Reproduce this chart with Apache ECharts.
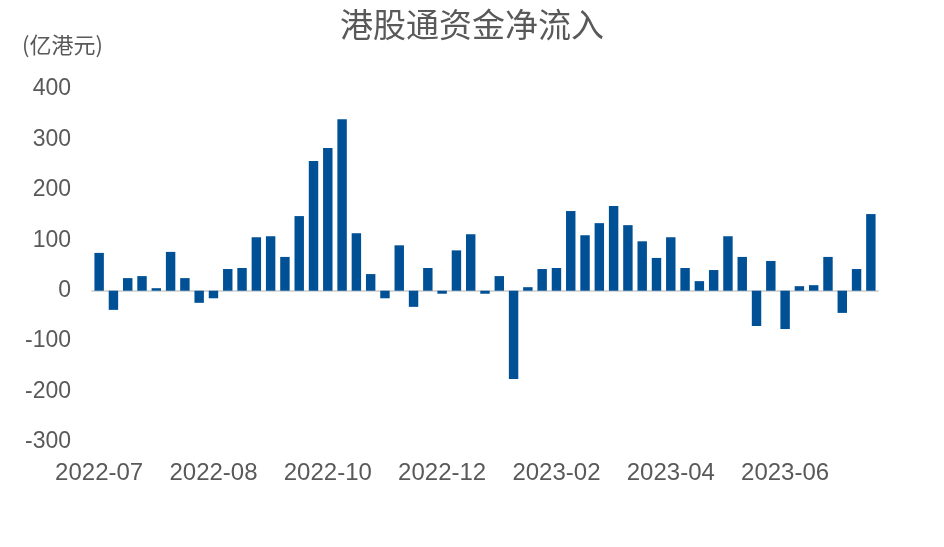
<!DOCTYPE html>
<html>
<head>
<meta charset="utf-8">
<script src="https://cdn.jsdelivr.net/npm/echarts@6/dist/echarts.min.js"></script>
<style>html,body{margin:0;padding:0;background:#fff;}#chart{width:944px;height:547px;}</style>
</head>
<body>
<div id="chart"></div>
<script>
var title = '港股通资金净流入';
var unitLabel = '(亿港元)';
var tickLabels = ['2022-07', '2022-08', '2022-10', '2022-12', '2023-02', '2023-04', '2023-06'];
var categories = [];
for (var i = 1; i <= 55; i++) categories.push('W' + i);
var values = [
  75, -38, 25, 29, 5, 77, 25, -24, -15, 43,
  45, 106, 108, 67, 148, 257, 283, 340, 114, 33,
  -15, 90, -32, 45, -6, 80, 112, -6, 29, -175,
  7, 43, 45, 158, 110, 134, 168, 130, 98, 65,
  106, 45, 19, 41, 108, 67, -70, 59, -76, 9,
  11, 67, -44, 43, 152
];

var chart = echarts.init(document.getElementById('chart'));
var fontLatin = '"Liberation Sans", Arial, "Noto Sans CJK SC", sans-serif';
var fontCJK = '"Noto Sans CJK SC", "Liberation Sans", sans-serif';
chart.setOption({
  animation: false,
  backgroundColor: '#ffffff',
  title: {
    text: title,
    left: 'center',
    top: 3,
    textStyle: { fontFamily: fontCJK, fontSize: 33, fontWeight: 'normal', color: '#595959' }
  },
  graphic: [{
    type: 'text',
    left: 22,
    top: 34,
    style: { text: unitLabel, font: '22px ' + fontCJK, fill: '#595959' }
  }],
  grid: { left: 92, right: 66, top: 89, bottom: 105 },
  xAxis: [{
    type: 'category',
    data: categories,
    position: 'bottom',
    axisLine: { show: true, onZero: true, lineStyle: { color: '#d9d9d9', width: 2 } },
    axisTick: { show: false },
    axisLabel: { show: false }
  }, {
    type: 'category',
    data: categories,
    position: 'bottom',
    axisLine: { show: false, onZero: false },
    axisTick: { show: false },
    axisLabel: {
      interval: 0,
      margin: 19,
      color: '#595959',
      fontSize: 24,
      fontFamily: fontLatin,
      formatter: function (v, idx) { return idx % 8 === 0 ? (tickLabels[idx / 8] || '') : ''; }
    }
  }],
  yAxis: {
    type: 'value',
    min: -300,
    max: 400,
    interval: 100,
    axisLine: { show: false },
    axisTick: { show: false },
    splitLine: { show: false },
    axisLabel: { color: '#595959', fontSize: 23, fontFamily: fontLatin, margin: 21 }
  },
  series: [{
    type: 'bar',
    data: values,
    xAxisIndex: 0,
    barWidth: '66%',
    itemStyle: { color: '#005096' }
  }]
});
</script>
</body>
</html>
